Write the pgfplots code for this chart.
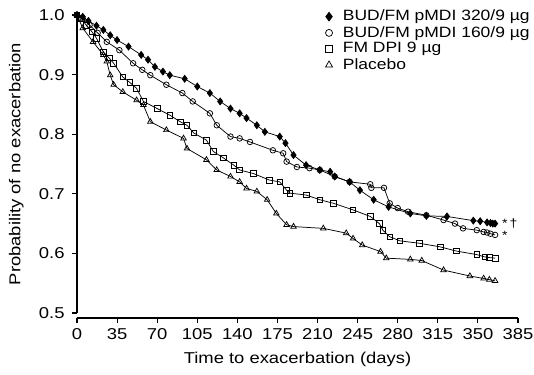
\documentclass[border=0pt]{standalone}
\usepackage{fontspec}
\setmainfont{Liberation Sans}[FakeStretch=1.17]
\usepackage{pgfplots}
\pgfplotsset{compat=1.18}
\newcommand{\lblfont}{\fontsize{11.8}{13}\selectfont}
\newcommand{\legfont}{\fontsize{11.2}{12.5}\selectfont}
\begin{document}
\lblfont
\begin{tikzpicture}
\useasboundingbox (-57.75pt,-45.75pt) rectangle (342.75pt,234.75pt);
\begin{axis}[
  scale only axis,
  width=330.75pt, height=223.5pt,
  at={(0,0)}, anchor=south west,
  xmin=0, xmax=385, ymin=0.5, ymax=1.0,
  axis x line*=bottom, axis y line*=left,
  axis x line shift=3.75pt,
  axis line style={line width=0.9pt, -},
  xtick={0,35,...,385},
  ytick={0.5,0.6,0.7,0.8,0.9,1.0},
  tick align=outside,
  major tick length=3.75pt,
  tick style={line width=0.8pt, black},
  /pgf/number format/assume math mode=true,
  yticklabel style={xshift=-1.5pt, /pgf/number format/.cd, fixed, fixed zerofill, precision=1},
  ticklabel style={font=\lblfont},
  xlabel={Time to exacerbation (days)},
  ylabel={Probability of no exacerbation},
  every axis x label/.style={at={(axis description cs:0.5,0)}, yshift=-34.5pt, anchor=center, font=\lblfont},
  every axis y label/.style={at={(axis description cs:0,0.5)}, xshift=-45.5pt, rotate=90, anchor=center, font=\lblfont},
  clip=false,
  legend style={draw=none, fill=none, at={(rel axis cs:0.563,1.022)}, anchor=north west,
    font=\legfont, inner sep=0pt, row sep=0.3pt,
    nodes={inner sep=1pt}},
  legend cell align=left,
  legend image code/.code={\draw[#1, only marks, every mark/.append style={scale=1.25}] plot coordinates {(0.1cm,0cm)};\path (0.42cm,0cm);},
  every axis plot/.append style={black, line width=0.55pt, mark options={solid, line width=0.5pt}},
]
\addplot[mark=diamond*, mark size=2.6pt, mark options={fill=black}] coordinates {
(0,1.0)(5,0.997)(10,0.990)(17,0.982)(23,0.975)(29,0.966)(35,0.958)(45,0.947)(56,0.933)(62,0.925)
(68,0.913)(75,0.905)(81,0.899)(94,0.893)(105,0.880)(116,0.869)(125,0.855)(134,0.843)(142,0.835)
(148,0.827)(157,0.815)(164,0.804)(177,0.796)(182,0.785)(189,0.765)(200,0.748)(212,0.740)(221,0.737)
(225,0.729)(238,0.720)(247,0.706)(259,0.690)(272,0.678)(291,0.667)(305,0.663)(323,0.662)(346,0.655)
(352,0.654)(358,0.652)(361,0.651)(363,0.650)(365,0.650)};
\addlegendentry{BUD/FM pMDI 320/9 µg}
\addplot[mark=o, mark size=2.1pt, mark options={fill=white}] coordinates {
(0,1.0)(5,0.994)(11,0.983)(18,0.970)(26,0.955)(37,0.941)(49,0.919)(57,0.908)(64,0.899)(78,0.883)
(92,0.869)(101,0.855)(116,0.835)(122,0.815)(134,0.796)(142,0.793)(151,0.787)(171,0.773)(180,0.768)
(183,0.754)(192,0.745)(203,0.743)(212,0.740)(225,0.729)(238,0.720)(256,0.716)(257,0.710)(268,0.710)
(273,0.684)(280,0.676)(289,0.670)(305,0.664)(320,0.656)(330,0.650)(337,0.642)(349,0.639)(355,0.636)
(358,0.635)(361,0.633)(365,0.631)};
\addlegendentry{BUD/FM pMDI 160/9 µg}
\addplot[mark=square, mark size=2.1pt, mark options={fill=white}] coordinates {
(0,1.0)(4,0.994)(8,0.983)(13,0.972)(17,0.961)(23,0.938)(28,0.928)(32,0.919)(40,0.896)(46,0.887)
(52,0.877)(58,0.855)(70,0.843)(81,0.832)(90,0.821)(96,0.815)(102,0.802)(113,0.790)(119,0.771)
(128,0.760)(137,0.748)(142,0.740)(154,0.734)(168,0.723)(177,0.720)(183,0.706)(186,0.701)(200,0.698)
(212,0.690)(224,0.684)(241,0.673)(256,0.662)(264,0.650)(267,0.639)(273,0.628)(282,0.621)(299,0.617)
(317,0.611)(331,0.604)(349,0.598)(356,0.594)(360,0.593)(365,0.592)};
\addlegendentry{FM DPI 9 µg}
\addplot[mark=triangle, mark size=2.4pt, mark options={fill=white}] coordinates {
(0,1.0)(5,0.978)(14,0.955)(23,0.933)(26,0.922)(29,0.899)(32,0.883)(40,0.871)(52,0.857)(58,0.849)
(64,0.821)(78,0.807)(93,0.793)(96,0.776)(113,0.757)(122,0.740)(134,0.729)(142,0.720)(148,0.709)
(157,0.704)(166,0.690)(174,0.667)(183,0.648)(189,0.645)(215,0.642)(235,0.634)(241,0.625)(249,0.614)
(265,0.603)(270,0.592)(291,0.590)(301,0.588)(320,0.572)(343,0.562)(355,0.558)(360,0.556)(365,0.554)};
\addlegendentry{Placebo}
\node[anchor=base west, inner sep=0pt, font=\fontsize{9}{10}\selectfont] at (axis cs:371,0.644) {*\,†};
\node[anchor=base west, inner sep=0pt, font=\fontsize{9}{10}\selectfont] at (axis cs:371,0.6225) {*};
\end{axis}
\end{tikzpicture}
\end{document}
